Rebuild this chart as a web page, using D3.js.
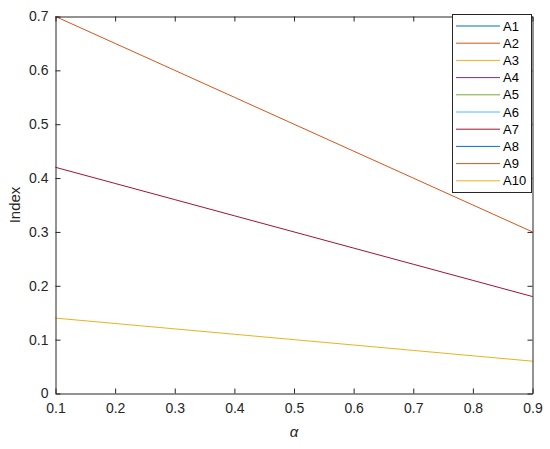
<!DOCTYPE html>
<html><head><meta charset="utf-8">
<script src="https://cdn.jsdelivr.net/npm/d3@7"></script>
<style>body{margin:0;background:#fff}svg{display:block}text{font-family:"Liberation Sans",Arial,sans-serif}</style>
</head><body>
<svg id="c" width="550" height="449"></svg>
<script>
const alphaVals = [0.1,0.2,0.3,0.4,0.5,0.6,0.7,0.8,0.9];
const topLine = [0.70,0.65,0.60,0.55,0.50,0.45,0.40,0.35,0.30];
const midLine = [0.42,0.39,0.36,0.33,0.30,0.27,0.24,0.21,0.18];
const lowLine = [0.14,0.13,0.12,0.11,0.10,0.09,0.08,0.07,0.06];
const seriesNames = ["A1","A2","A3","A4","A5","A6","A7","A8","A9","A10"];
const seriesValues = [topLine, topLine, lowLine, midLine, midLine, midLine, midLine, topLine, topLine, lowLine];
const colors = ["#0072BD","#D95319","#EDB120","#7E2F8E","#77AC30","#4DBEEE","#A2142F","#0072BD","#D95319","#EDB120"];
const xTicks = [0.1,0.2,0.3,0.4,0.5,0.6,0.7,0.8,0.9];
const yTicks = [0,0.1,0.2,0.3,0.4,0.5,0.6,0.7];

const svg = d3.select("#c");
const L=55.5, R=532.5, T=16.5, B=393.5;
const x = d3.scaleLinear().domain([0.1,0.9]).range([L,R]);
const y = d3.scaleLinear().domain([0,0.7]).range([B,T]);
const axCol = "#262626";
const fs = 14;

// lines (white underlay keeps overlapped series from tinting the top one)
const line = d3.line().x((d,i)=>x(alphaVals[i])).y(d=>y(d));
seriesValues.forEach((vals,i)=>{
  svg.append("path").attr("d",line(vals)).attr("fill","none")
    .attr("stroke","#fff").attr("stroke-width",3);
  svg.append("path").attr("d",line(vals)).attr("fill","none")
    .attr("stroke",colors[i]).attr("stroke-width",1);
});

// axes
const tl = 5;
const gB = svg.append("g").attr("transform",`translate(0,${B})`)
  .call(d3.axisBottom(x).tickValues(xTicks).tickSizeInner(-tl).tickSizeOuter(0).tickPadding(10).tickFormat(d3.format(".1f")));
const gT = svg.append("g").attr("transform",`translate(0,${T})`)
  .call(d3.axisTop(x).tickValues(xTicks).tickSizeInner(-tl).tickSizeOuter(0).tickFormat(""));
const gL = svg.append("g").attr("transform",`translate(${L},0)`)
  .call(d3.axisLeft(y).tickValues(yTicks).tickSizeInner(-tl).tickSizeOuter(0).tickPadding(7).tickFormat(d=>d===0?"0":d3.format(".1f")(d)));
const gR = svg.append("g").attr("transform",`translate(${R},0)`)
  .call(d3.axisRight(y).tickValues(yTicks).tickSizeInner(-tl).tickSizeOuter(0).tickFormat(""));
[gB,gT,gL,gR].forEach(g=>{
  g.attr("font-size",fs).attr("font-family","'Liberation Sans',Arial,sans-serif");
  g.selectAll("path").attr("stroke",axCol).attr("stroke-width",1);
  g.selectAll("line").attr("stroke",axCol).attr("stroke-width",1);
  g.selectAll("text").attr("fill",axCol);
});

// labels
svg.append("text").attr("x",294).attr("y",437).attr("text-anchor","middle")
  .attr("font-size",15).attr("font-style","italic").attr("fill",axCol).text("α");
svg.append("text").attr("transform",`translate(20,${(T+B)/2}) rotate(-90)`).attr("text-anchor","middle")
  .attr("font-size",15).attr("fill",axCol).text("Index");

// legend
const lg = svg.append("g");
lg.append("rect").attr("x",452.5).attr("y",14.5).attr("width",79).attr("height",178)
  .attr("fill","#fff").attr("stroke",axCol).attr("stroke-width",1);
seriesNames.forEach((n,i)=>{
  const yy = 26 + i*17.2;
  lg.append("line").attr("x1",456).attr("x2",500).attr("y1",yy).attr("y2",yy)
    .attr("stroke",colors[i]).attr("stroke-width",1);
  lg.append("text").attr("x",503).attr("y",yy+4.5).attr("font-size",13).attr("fill","#000").text(n);
});
</script>
</body></html>
